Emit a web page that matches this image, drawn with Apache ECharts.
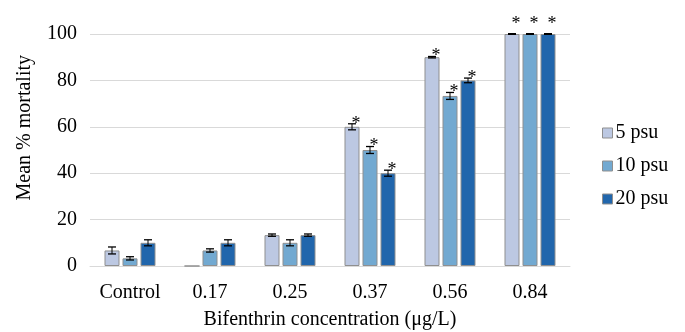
<!DOCTYPE html>
<html><head><meta charset="utf-8">
<script src="https://cdn.jsdelivr.net/npm/echarts@6/dist/echarts.min.js"></script>
<style>html,body{margin:0;padding:0;background:#fff}#c{width:685px;height:332px}</style>
</head><body><div id="c"></div>
<script>
const categories = ['Control', '0.17', '0.25', '0.37', '0.56', '0.84'];
const seriesNames = ['5 psu', '10 psu', '20 psu'];
const psu5 = [6.7, 0, 13.3, 60, 90, 100];
const psu10 = [3.3, 6.7, 10, 50, 73.3, 100];
const psu20 = [10, 10, 13.3, 40, 80, 100];
const err5 = [1.5, 0, 0.5, 1.3, 0.3, 0];
const err10 = [0.7, 0.7, 1.3, 1.5, 1.5, 0];
const err20 = [1.3, 1.3, 0.5, 1.3, 1.0, 0];
const sig5 = [0, 0, 0, 1, 1, 1];
const sig10 = [0, 0, 0, 1, 1, 1];
const sig20 = [0, 0, 0, 1, 1, 1];
const yTicks = [0, 20, 40, 60, 80, 100];

const values = [psu5, psu10, psu20];
const errs = [err5, err10, err20];
const sigs = [sig5, sig10, sig20];
const colors = ['#BCC8E2', '#72A9D1', '#2166AC'];
const font = '"Liberation Serif", "Times New Roman", serif';
const FS = 20;
const BW = 15, GAP = 3;

const chart = echarts.init(document.getElementById('c'));
const series = [];
values.forEach((v, s) => {
  series.push({
    name: seriesNames[s], type: 'bar', data: v, barWidth: BW, barGap: '20%',
    itemStyle: { color: colors[s], borderColor: '#8F8F8F', borderWidth: 1 },
    z: 2
  });
});
values.forEach((v, s) => {
  series.push({
    type: 'custom', z: 5, silent: true,
    data: v.map((val, i) => [i, val, errs[s][i], sigs[s][i]]),
    renderItem: function (params, api) {
      const i = api.value(0), val = api.value(1), e = api.value(2), sg = api.value(3);
      const c = api.coord([i, val]);
      const x = c[0] + (s - 1) * (BW + GAP);
      const top = api.coord([i, val + e])[1];
      const bot = api.coord([i, val - e])[1];
      const cap = 4;
      const children = [];
      if (e > 0) {
        children.push({ type: 'line', shape: { x1: x, y1: top, x2: x, y2: bot }, style: { stroke: '#000', lineWidth: 1 } });
        children.push({ type: 'line', shape: { x1: x - cap, y1: top, x2: x + cap, y2: top }, style: { stroke: '#000', lineWidth: 1.3 } });
        children.push({ type: 'line', shape: { x1: x - cap, y1: bot, x2: x + cap, y2: bot }, style: { stroke: '#000', lineWidth: 1.3 } });
      } else if (val > 0) {
        children.push({ type: 'line', shape: { x1: x - cap, y1: top, x2: x + cap, y2: top }, style: { stroke: '#000', lineWidth: 2 } });
      }
      if (sg) {
        const big = val >= 100;
        children.push({ type: 'text', style: { text: '*', x: x + 4, y: top + (big ? -10 : 0), align: 'center', verticalAlign: 'middle', font: '18px ' + font, fill: '#000' } });
      }
      return { type: 'group', children: children };
    }
  });
});

chart.setOption({
  animation: false,
  textStyle: { fontFamily: font },
  grid: { left: 90, right: 115, top: 34, bottom: 66, outerBoundsMode: 'none', containLabel: false },
  legend: {
    data: seriesNames, orient: 'vertical', left: 597, top: 118,
    itemWidth: 10, itemHeight: 10, itemGap: 13, icon: 'rect',
    itemStyle: { borderColor: '#8F8F8F', borderWidth: 1 },
    textStyle: { fontFamily: font, fontSize: FS, color: '#000', padding: [0, 0, 0, -2] }
  },
  xAxis: {
    type: 'category', data: categories,
    axisLine: { lineStyle: { color: '#D9D9D9', width: 1 } },
    axisTick: { show: false },
    axisLabel: { fontFamily: font, fontSize: FS, color: '#000', margin: 17 },
    name: 'Bifenthrin concentration (μg/L)', nameLocation: 'middle', nameGap: 44,
    nameTextStyle: { fontFamily: font, fontSize: FS, color: '#000' }
  },
  yAxis: {
    type: 'value', min: 0, max: 100, interval: 20,
    axisLine: { show: false }, axisTick: { show: false },
    splitLine: { lineStyle: { color: '#D9D9D9', width: 1 } },
    axisLabel: { fontFamily: font, fontSize: FS, color: '#000', margin: 13,
      formatter: v => yTicks.includes(v) ? String(v) : '' }
  },
  graphic: [{
    type: 'text', left: 15, top: 55, rotation: Math.PI / 2,
    style: { text: 'Mean % mortality', font: FS + 'px ' + font, fill: '#000' }
  }],
  series: series
});
</script></body></html>
